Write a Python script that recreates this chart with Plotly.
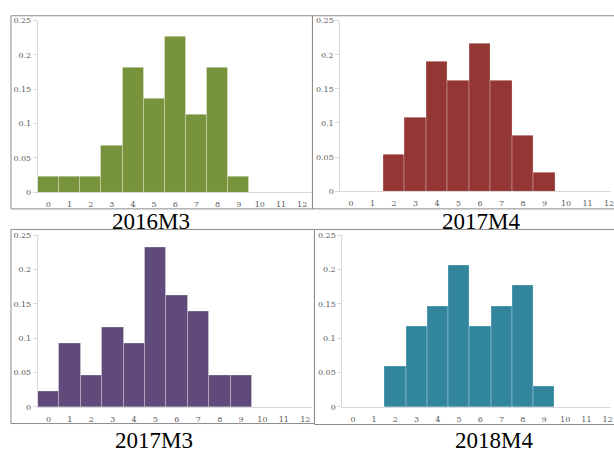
import plotly.graph_objects as go

W, H = 614, 455

categories = list(range(13))
tick_labels_x = [str(c) for c in categories]
y_tick_vals = [0, 0.05, 0.1, 0.15, 0.2, 0.25]
y_tick_text = ["0", "0.05", "0.1", "0.15", "0.2", "0.25"]

titles = ["2016M3", "2017M4", "2017M3", "2018M4"]

vals_2016M3 = [0.0227, 0.0227, 0.0227, 0.0682, 0.1818, 0.1364, 0.2273, 0.1136, 0.1818, 0.0227, 0, 0, 0]
vals_2017M4 = [0, 0, 0.0541, 0.1081, 0.1892, 0.1622, 0.2162, 0.1622, 0.0811, 0.0270, 0, 0, 0]
vals_2017M3 = [0.0233, 0.0930, 0.0465, 0.1163, 0.0930, 0.2326, 0.1628, 0.1395, 0.0465, 0.0465, 0, 0, 0]
vals_2018M4 = [0, 0, 0.0588, 0.1176, 0.1471, 0.2059, 0.1176, 0.1471, 0.1765, 0.0294, 0, 0, 0]

series = [vals_2016M3, vals_2017M4, vals_2017M3, vals_2018M4]
colors = ["#77933C", "#943634", "#604A7B", "#31859C"]

# pixel layout per panel: (axis_left_px, zero_px, top_px, unit_px, right_px)
panels = [
    (38, 192, 17, 21.25, 314),
    (342, 191, 17, 21.6, 614),
    (38, 411, 236, 21.5, 314),
    (344, 411, 236, 21.33, 614),
]
title_pos = [(152, 222), (483, 222), (155, 445), (496, 445)]
boxes = [(11, 12, 314, 209), (314, 12, 620, 209), (11, 230, 316, 428), (316, 230, 620, 429)]

def px(x):
    return x / W

def py(y):
    return 1 - y / H

fig = go.Figure()
layout = {}
for i, (vals, col) in enumerate(zip(series, colors)):
    n = "" if i == 0 else str(i + 1)
    fig.add_trace(go.Bar(
        x=categories, y=vals, xaxis="x" + n, yaxis="y" + n,
        marker=dict(color=col, line=dict(color="rgba(255,255,255,0.45)", width=0.6)),
        showlegend=False, hoverinfo="x+y",
    ))
    ax_l, zero, top, unit, right = panels[i]
    xmax = -0.5 + (right - ax_l) / unit
    layout["xaxis" + n] = dict(
        domain=[px(ax_l), px(right)], range=[-0.5, xmax], anchor="y" + n,
        tickvals=categories, ticktext=tick_labels_x, ticks="",
        showline=True, linecolor="#d9d9d9", linewidth=1.3, showgrid=False, zeroline=False,
        tickfont=dict(family="DejaVu Serif", size=8, color="#595959"),
        ticklabelstandoff=4, ticklabeloverflow="allow", fixedrange=True,
    )
    layout["yaxis" + n] = dict(
        domain=[py(zero), py(top)], range=[0, 0.25], anchor="x" + n,
        tickvals=y_tick_vals, ticktext=y_tick_text, ticks="outside", ticklen=4,
        tickcolor="#d9d9d9", showline=True, linecolor="#d9d9d9", linewidth=1,
        showgrid=False, zeroline=False,
        tickfont=dict(family="DejaVu Serif", size=8, color="#595959"),
        fixedrange=True,
    )

shapes = []
for (x0, y0, x1, y1) in boxes:
    shapes.append(dict(type="rect", xref="paper", yref="paper",
                       x0=px(x0), x1=px(x1), y0=py(y1), y1=py(y0),
                       line=dict(color="#8c8c8c", width=1), layer="below"))

annotations = []
for t, (tx, ty) in zip(titles, title_pos):
    annotations.append(dict(text=t, x=px(tx), y=py(ty), xref="paper", yref="paper",
                            xanchor="center", yanchor="middle", showarrow=False, borderpad=0,
                            font=dict(family="Liberation Serif", size=23, color="#000000")))

fig.update_layout(
    width=W, height=H, margin=dict(l=0, r=0, t=0, b=0),
    paper_bgcolor="white", plot_bgcolor="white", bargap=0,
    shapes=shapes, annotations=annotations, **layout,
)

fig.write_html("out.html", config={"displayModeBar": False},
               post_script="document.body.style.margin='0';document.body.style.overflow='hidden';")
